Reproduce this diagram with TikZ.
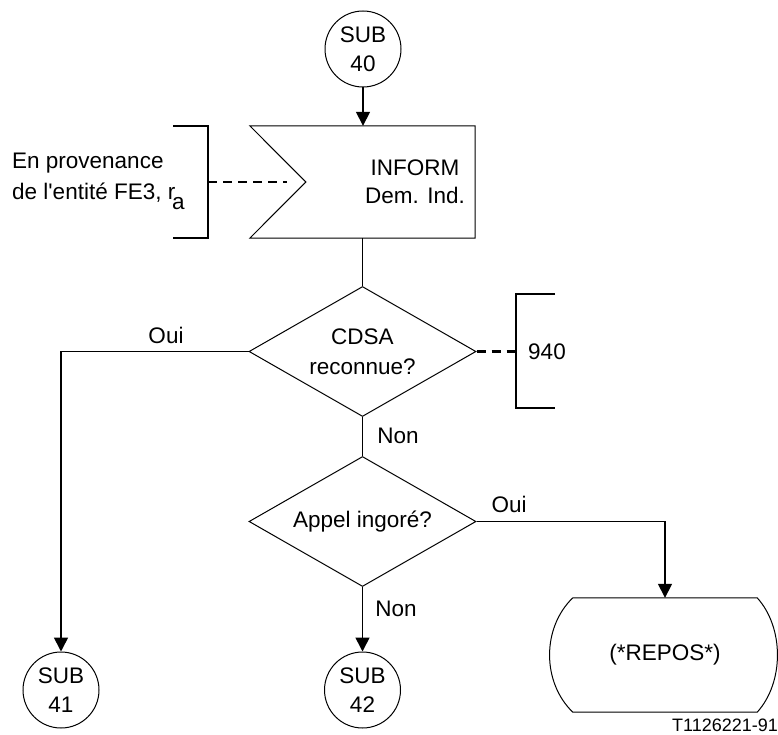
\documentclass[tikz,border=0pt]{standalone}
\usepackage{fontspec}
\setmainfont{Liberation Sans}[Ligatures=TeXOff]
\usetikzlibrary{arrows.meta,shapes.geometric}
\begin{document}
\begin{tikzpicture}[x=1pt,y=-1pt,
 txt/.style={font=\fontsize{22.5}{30}\selectfont, inner sep=0pt, align=center},
 subc/.style={circle, draw, line width=1pt, minimum size=76pt, inner sep=0pt, align=center, font=\fontsize{22.5}{29}\selectfont},
 dia/.style={diamond, draw, line width=1pt, minimum width=227pt, minimum height=130pt, inner sep=0pt, aspect=1.75, align=center, font=\fontsize{22.5}{30}\selectfont},
 flow/.style={line width=1.6pt},
 arr/.style={flow, -{Triangle[length=14pt,width=14pt]}},
 brk/.style={line width=2.8pt},
 dsh/.style={line width=2.8pt, dash pattern=on 9pt off 6pt},
 thinl/.style={line width=1pt}]
\useasboundingbox (0,0) rectangle (778,735);

% start connector
\node[subc] (s40) at (363,49) {SUB\\40};

% input signal
\node[minimum width=225pt, minimum height=112pt, inner sep=0pt] (inb) at (362.5,182) {};
\draw[thinl] (inb.north west) -- (inb.north east) -- (inb.south east) -- (inb.south west) -- ([xshift=56pt]inb.west) -- cycle;
\node[txt, font=\fontsize{22.5}{28}\selectfont] (inft) at (415,182) {INFORM\\Dem. Ind.};
\draw[arr] (s40.south) -- (s40.south |- inb.north);

% left comment bracket
\coordinate (lbt) at (173,126);
\coordinate (lbtc) at (208,126);
\coordinate (lbbc) at (208,238);
\coordinate (lbb) at (173,238);
\coordinate (lbm) at (208,182);
\coordinate (lbd) at (287,182);
\draw[brk] (lbt) -- (lbtc) -- (lbbc) -- (lbb);
\draw[dsh] (lbm) -- (lbd);
\node[txt, anchor=base west] (t1) at (12,169) {En provenance};
\node[txt, anchor=base west] (t2) at (12,200) {de l'entité FE3, r\kern-0.14em\raisebox{-0.42em}{a}};

% decision 1
\node[dia] (d1) at (362.5,351.5) {CDSA\\reconnue?};
\draw[flow] (inb.south) -- (d1.north);

% right comment bracket
\coordinate (rbm) at (516,351.5);
\coordinate (rbtc) at (516,294);
\coordinate (rbt) at (555,294);
\coordinate (rbbc) at (516,408);
\coordinate (rbb) at (555,408);
\draw[dsh] (d1.east) -- (rbm);
\draw[brk] (rbt) -- (rbtc) -- (rbbc) -- (rbb);
\node[txt] (n940) at (547,351.5) {940};

% SUB 41
\node[subc] (s41) at (61,690) {SUB\\41};
\draw[arr] (d1.west) -| (s41.north);
\node[txt] (oui1) at (166,335) {Oui};

% decision 2
\node[dia] (d2) at (362.5,521.5) {Appel ingoré?};
\draw[flow] (d1.south) -- (d2.north);
\node[txt] (non1) at (398,436) {Non};

% SUB 42
\node[subc] (s42) at (362.5,690) {SUB\\42};
\draw[arr] (d2.south) -- (s42.north);
\node[txt] (non2) at (396,609) {Non};

% REPOS
\node[minimum width=184pt, minimum height=114pt, inner sep=0pt, txt] (rep) at (665,655) {(*REPOS*)};
\draw[thinl] (rep.north west) -- (rep.north east)
  .. controls ([xshift=27pt,yshift=-30pt]rep.north east) and ([xshift=27pt,yshift=30pt]rep.south east) .. (rep.south east)
  -- (rep.south west)
  .. controls ([xshift=-31pt,yshift=30pt]rep.south west) and ([xshift=-31pt,yshift=-30pt]rep.north west) .. (rep.north west);
\draw[arr] (d2.east) -| (rep.north);
\node[txt] (oui2) at (509,504) {Oui};

\node[font=\fontsize{18}{20}\selectfont, inner sep=0pt] (ref) at (725,725) {T1126221-91};
\end{tikzpicture}
\end{document}
